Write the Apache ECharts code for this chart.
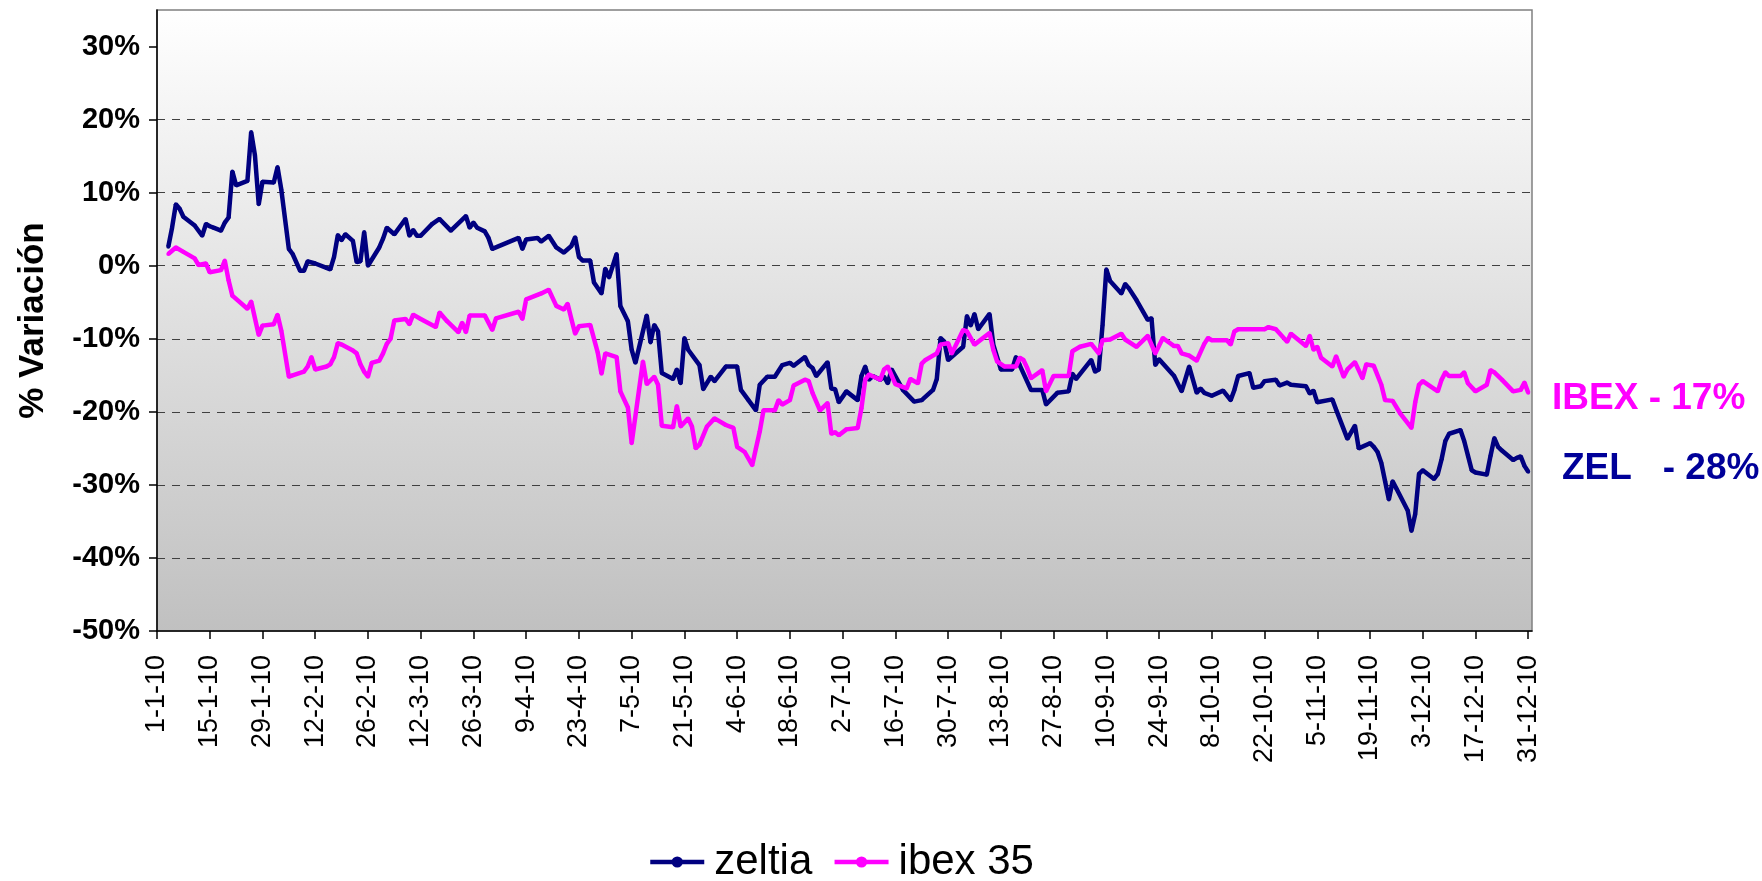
<!DOCTYPE html>
<html>
<head>
<meta charset="utf-8">
<script src="https://cdn.jsdelivr.net/npm/echarts@6/dist/echarts.min.js"></script>
<style>html,body{margin:0;padding:0;background:#fff;}#c{width:1762px;height:881px;}</style>
</head>
<body>
<div id="c"></div>
<script>
// Day index counted from 1-1-2010 (day 0)
const tickDays = [0,14,28,42,56,70,84,98,112,126,140,154,168,182,196,210,224,238,252,266,280,294,308,322,336,350,364];
const tickLabels = ['1-1-10','15-1-10','29-1-10','12-2-10','26-2-10','12-3-10','26-3-10','9-4-10','23-4-10','7-5-10','21-5-10','4-6-10','18-6-10','2-7-10','16-7-10','30-7-10','13-8-10','27-8-10','10-9-10','24-9-10','8-10-10','22-10-10','5-11-10','19-11-10','3-12-10','17-12-10','31-12-10'];
const yTicks = [-50,-40,-30,-20,-10,0,10,20,30];

const zelDays = [3,4,5,6,7,10,12,13,14,15,17,18,19,20,21,24,25,26,27,28,31,32,33,35,36,38,39,40,42,45,46,47,48,49,50,52,53,54,55,56,59,60,61,63,66,67,68,69,70,73,75,78,82,83,84,85,87,88,89,96,97,98,101,102,104,106,108,110,111,112,113,115,116,118,119,120,122,123,125,126,127,130,131,132,133,134,137,138,139,140,141,144,145,147,148,151,154,155,157,159,160,162,164,166,168,169,172,173,174,175,178,179,180,181,183,186,187,188,189,190,192,193,194,195,198,201,203,206,207,208,209,210,214,215,216,217,218,221,222,224,227,228,229,232,235,236,239,242,243,244,248,249,250,251,252,253,256,257,258,260,263,264,265,266,270,272,274,276,277,278,280,283,285,286,287,290,291,293,294,297,298,300,301,305,306,307,308,312,313,316,318,319,322,323,324,325,326,327,328,329,332,333,334,335,336,339,340,341,342,343,346,347,348,349,350,353,354,355,356,357,360,361,362,363,364];
const zelVals = [2.6,5.2,8.4,7.8,6.7,5.5,4.1,5.7,5.4,5.2,4.8,5.9,6.6,12.9,11.0,11.6,18.3,15.1,8.4,11.5,11.4,13.5,10.4,2.3,1.6,-0.7,-0.7,0.6,0.3,-0.3,-0.5,1.2,4.2,3.5,4.3,3.4,0.5,0.6,4.6,0.0,2.5,3.7,5.2,4.3,6.4,4.1,4.9,4.1,4.1,5.7,6.4,4.8,6.8,5.2,5.9,5.2,4.7,3.8,2.3,3.8,2.3,3.6,3.8,3.3,4.1,2.5,1.8,2.7,3.9,1.2,0.7,0.7,-2.3,-3.8,-0.4,-1.6,1.6,-5.5,-7.6,-11.5,-13.3,-6.8,-10.5,-8.1,-9.0,-14.7,-15.5,-14.2,-16.1,-9.9,-11.5,-13.6,-16.9,-15.2,-15.8,-13.8,-13.8,-17.0,-18.4,-19.8,-16.3,-15.2,-15.2,-13.6,-13.3,-13.7,-12.5,-13.6,-14.0,-15.1,-13.2,-16.8,-16.9,-18.7,-17.2,-18.4,-15.1,-13.8,-15.6,-15.1,-15.6,-15.2,-16.1,-14.2,-17.0,-18.6,-18.4,-17.0,-15.5,-9.9,-10.4,-12.9,-11.1,-6.9,-8.2,-6.6,-8.7,-6.6,-10.8,-14.2,-14.2,-12.5,-13.6,-17.0,-17.0,-19.0,-17.4,-17.2,-14.8,-15.5,-12.9,-14.5,-14.2,-8.1,-0.5,-2.1,-3.8,-2.5,-3.1,-4.7,-7.4,-7.2,-13.6,-12.8,-15.1,-17.2,-13.8,-17.4,-16.8,-17.4,-17.8,-17.1,-18.4,-17.0,-15.1,-14.7,-16.7,-16.5,-15.8,-15.6,-16.4,-16.0,-16.3,-16.5,-17.5,-17.1,-18.7,-18.3,-19.7,-23.7,-21.9,-25.0,-24.3,-24.8,-25.5,-27.0,-29.5,-32.0,-29.5,-30.5,-33.5,-36.3,-34.0,-28.5,-28.0,-29.2,-28.5,-26.5,-24.0,-23.0,-22.5,-24.0,-26.0,-28.0,-28.3,-28.6,-26.0,-23.6,-24.8,-25.3,-26.6,-26.3,-26.1,-27.4,-28.2];

const ibexDays = [3,5,7,10,11,13,14,17,18,19,20,24,25,27,28,31,32,33,35,36,39,40,41,42,45,46,47,48,49,52,53,54,55,56,57,59,60,61,62,63,66,67,68,70,74,75,77,80,81,82,83,87,89,90,96,97,98,101,102,104,106,108,109,110,111,112,115,117,118,119,122,123,125,126,129,130,132,133,134,137,138,139,141,142,143,144,146,148,151,153,154,156,158,159,160,161,164,165,166,168,169,172,173,174,176,178,179,180,181,183,186,187,188,189,192,193,194,196,199,200,202,203,204,207,208,210,211,214,215,217,221,222,223,225,228,229,230,231,232,235,236,238,242,243,245,248,250,251,253,256,257,260,263,265,267,270,271,272,274,276,278,279,280,284,285,286,287,294,295,297,300,301,305,306,307,308,309,312,313,314,315,316,318,320,321,323,325,326,328,330,333,334,335,336,340,341,342,343,346,347,348,350,353,354,355,357,360,362,363,364];
const ibexVals = [1.6,2.5,1.9,1.0,0.1,0.3,-0.9,-0.6,0.7,-2.0,-4.1,-5.9,-4.9,-9.5,-8.2,-8.0,-6.7,-8.9,-15.2,-15.0,-14.5,-13.8,-12.5,-14.2,-13.8,-13.5,-12.5,-10.6,-10.8,-11.6,-12.0,-13.5,-14.5,-15.2,-13.3,-13.0,-12.0,-10.7,-10.0,-7.5,-7.3,-8.0,-6.7,-7.3,-8.4,-6.4,-7.6,-9.1,-7.8,-9.1,-6.8,-6.8,-8.8,-7.2,-6.3,-7.3,-4.6,-4.0,-3.8,-3.3,-5.5,-6.0,-5.2,-7.3,-9.3,-8.3,-8.1,-11.9,-14.8,-12.0,-12.5,-17.2,-19.4,-24.3,-13.1,-16.2,-15.2,-16.3,-21.9,-22.1,-19.2,-22.0,-20.9,-22.0,-25.0,-24.5,-22.0,-20.9,-21.8,-22.2,-24.8,-25.5,-27.3,-25.0,-22.7,-19.8,-19.8,-18.4,-19.0,-18.4,-16.4,-15.6,-15.8,-17.4,-19.8,-18.8,-23.0,-22.8,-23.2,-22.4,-22.2,-19.5,-15.6,-14.9,-15.6,-14.2,-13.8,-16.2,-16.8,-15.5,-16.1,-13.4,-12.9,-12.0,-10.8,-10.6,-12.0,-8.8,-9.0,-10.8,-9.2,-11.5,-13.1,-13.8,-13.8,-12.6,-12.9,-14.0,-15.4,-14.3,-17.2,-15.1,-15.1,-11.7,-11.1,-10.7,-12.0,-10.2,-10.1,-9.3,-10.1,-11.1,-9.6,-12.0,-9.9,-11.0,-11.0,-12.0,-12.3,-13.0,-10.7,-9.9,-10.2,-10.2,-10.8,-9.0,-8.7,-8.7,-8.4,-8.7,-10.4,-9.3,-11.0,-9.6,-11.5,-11.1,-12.6,-13.8,-12.4,-13.8,-15.2,-14.2,-13.2,-15.4,-13.5,-13.7,-16.3,-18.4,-18.5,-20.2,-22.2,-18.7,-16.3,-15.8,-17.2,-15.6,-14.6,-15.1,-15.1,-14.6,-16.1,-17.2,-16.3,-14.3,-14.6,-15.6,-17.2,-17.0,-16.0,-17.4];

const seriesNames = ['zeltia', 'ibex 35'];
const annotIbex = 'IBEX - 17%';
const annotZel = 'ZEL   - 28%';

const FONT = '"Liberation Sans", Arial, sans-serif';
const zip = (d, v) => d.map((x, i) => [x, v[i]]);

const chart = echarts.init(document.getElementById('c'), null, {renderer: 'canvas'});
chart.setOption({
  animation: false,
  backgroundColor: '#ffffff',
  grid: {
    left: 157, right: 230, top: 10, bottom: 250, show: true,
    borderColor: '#808080', borderWidth: 1.5,
    backgroundColor: new echarts.graphic.LinearGradient(0, 0, 0, 1, [
      {offset: 0, color: '#ffffff'}, {offset: 1, color: '#c0c0c0'}
    ])
  },
  legend: {
    data: seriesNames, left: 643, top: 836, itemWidth: 54, itemHeight: 14, itemGap: 20,
    lineStyle: {width: 4.5},
    textStyle: {fontSize: 42, fontFamily: FONT, color: '#000', padding: [0, 0, 0, 5]}
  },
  xAxis: {
    type: 'value', min: 0, max: 365, interval: 14,
    axisLine: {show: true, onZero: false, lineStyle: {color: '#000', width: 1.5}},
    axisTick: {show: true, length: 8, customValues: tickDays, lineStyle: {color: '#000', width: 1.5}},
    axisLabel: {
      rotate: 90, margin: 24, fontSize: 27, fontFamily: FONT, color: '#000',
      customValues: tickDays,
      formatter: v => { const i = tickDays.indexOf(v); return i >= 0 ? tickLabels[i] : ''; }
    },
    splitLine: {show: false}
  },
  yAxis: {
    type: 'value', min: -50, max: 35, interval: 10,
    name: '% Variación', nameLocation: 'middle', nameRotate: 90, nameGap: 106,
    nameTextStyle: {fontSize: 35, fontWeight: 'bold', fontFamily: FONT, color: '#000'},
    axisLine: {show: true, lineStyle: {color: '#000', width: 1.5}},
    axisTick: {show: true, length: 8, customValues: yTicks, lineStyle: {color: '#000', width: 1.5}},
    axisLabel: {
      margin: 17, fontSize: 29, fontWeight: 'bold', fontFamily: FONT, color: '#000',
      customValues: yTicks, formatter: v => v + '%'
    },
    splitLine: {show: true, showMaxLine: false, showMinLine: false,
      lineStyle: {type: [8, 7], color: '#404040', width: 1}}
  },
  graphic: [
    {type: 'text', left: 1552, top: 380, z: 10,
     style: {text: annotIbex, fill: '#FF00FF', font: 'bold 37px ' + FONT}},
    {type: 'text', left: 1562, top: 450, z: 10,
     style: {text: annotZel, fill: '#000099', font: 'bold 37px ' + FONT}}
  ],
  series: [
    {name: seriesNames[0], type: 'line', data: zip(zelDays, zelVals), color: '#000080',
     lineStyle: {width: 4.5, color: '#000080'}, symbol: 'circle', symbolSize: 4, z: 2},
    {name: seriesNames[1], type: 'line', data: zip(ibexDays, ibexVals), color: '#FF00FF',
     lineStyle: {width: 4.5, color: '#FF00FF'}, symbol: 'circle', symbolSize: 4, z: 3}
  ]
});
</script>
</body>
</html>
